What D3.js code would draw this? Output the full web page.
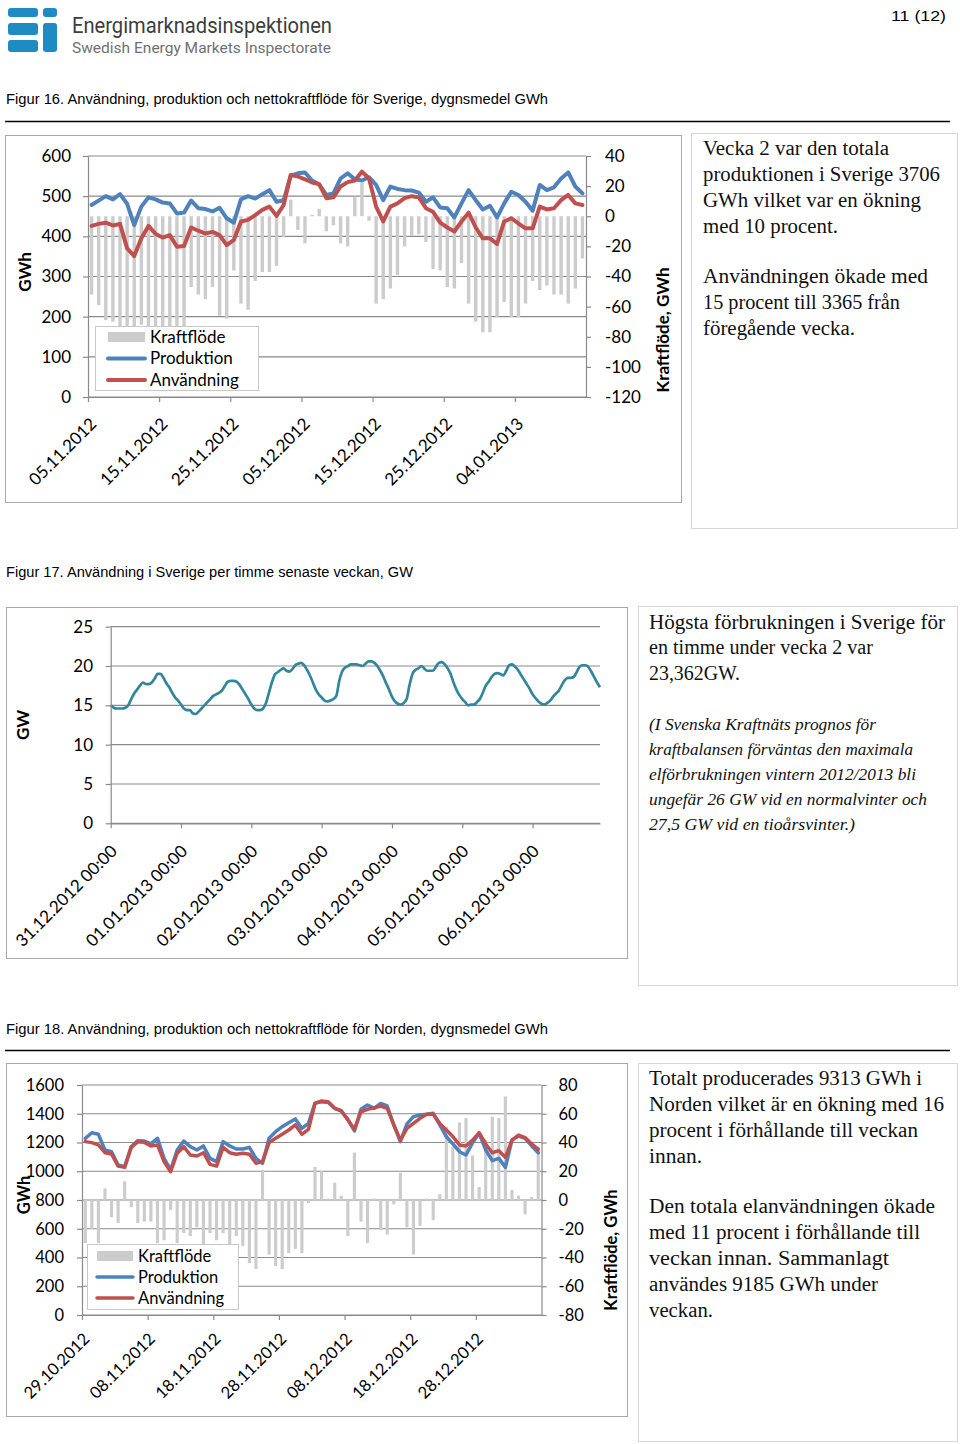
<!DOCTYPE html>
<html><head><meta charset="utf-8">
<script src="https://cdn.jsdelivr.net/npm/d3@7"></script>
<style>
html,body{margin:0;padding:0;background:#fff;}
svg{display:block;}
</style></head><body>
<svg id="page" width="960" height="1444"></svg>
<script>
// ---------------- DATA ----------------
// Figur 16 – Sverige, dygnsmedel GWh (05.11.2012 – 13.01.2013)
const fig16Start = "2012-11-05";
const fig16Produktion = [478,489,500,492,505,481,428,474,497,492,
  484,482,457,459,489,470,468,462,471,445,
  434,492,500,494,505,515,486,490,551,557,
  559,539,529,503,507,544,557,542,539,547,
  528,490,524,518,515,514,509,486,497,472,
  470,447,482,515,490,467,476,447,482,511,
  503,486,464,528,515,522,544,559,524,507];
const fig16Anvandning = [426,431,434,427,431,370,351,395,426,406,
  397,403,374,376,422,414,407,411,403,378,
  391,437,441,453,466,474,451,478,553,549,
  542,534,530,495,497,524,535,539,561,544,
  474,437,474,482,495,500,497,470,461,434,
  422,412,437,459,422,395,395,381,437,445,
  432,420,420,474,467,470,490,503,482,478];
const fig16Kraftflode = [-52,-59,-69,-70,-76,-105,-78,-72,-73,-84,
  -86,-78,-82,-81,-47,-52,-55,-47,-66,-68,
  -36,-58,-62,-43,-37,-37,-33,-14,11,-9,
  -18,1,5,-10,-6,-18,-20,13,22,-3,
  -58,-55,-48,-39,-20,-13,-12,-17,-35,-36,
  -47,-48,-31,-58,-70,-77,-77,-67,-57,-67,
  -67,-58,-43,-49,-46,-52,-52,-58,-48,-28];
const fig16DateLabels = ["05.11.2012","15.11.2012","25.11.2012","05.12.2012","15.12.2012","25.12.2012","04.01.2013"];
const fig16LeftTicks = [0,100,200,300,400,500,600];
const fig16RightTicks = [-120,-100,-80,-60,-40,-20,0,20,40];

// Figur 17 – Användning per timme, GW (31.12.2012 – 06.01.2013)
const fig17Hourly = [15.0,14.7,14.6,14.6,14.6,14.7,15.0,15.8,16.5,17.0,17.5,17.9,17.7,17.7,17.9,18.4,19.0,19.0,18.5,17.8,17.3,16.6,16.0,15.6,
  15.1,14.6,14.4,14.4,14.0,13.9,14.2,14.6,15.0,15.4,15.8,16.2,16.4,16.6,16.9,17.5,18.0,18.1,18.1,18.0,17.6,17.0,16.4,15.8,
  15.1,14.6,14.4,14.4,14.6,15.3,16.6,17.9,18.9,19.2,19.5,19.7,19.4,19.3,19.6,20.1,20.3,20.4,20.1,19.5,18.8,17.9,17.0,16.4,
  16.0,15.6,15.5,15.6,15.8,16.2,18.1,19.3,19.8,20.0,20.2,20.2,20.2,20.1,20.0,20.3,20.6,20.6,20.4,20.0,19.4,18.7,17.8,17.0,
  16.1,15.5,15.2,15.1,15.3,15.8,17.6,19.0,19.5,19.7,20.0,19.7,19.4,19.4,19.4,19.9,20.4,20.5,20.2,19.7,19.0,17.9,17.0,16.3,
  15.8,15.4,15.0,15.1,15.1,15.4,15.8,16.6,17.5,18.0,18.6,19.0,19.1,19.0,18.8,19.4,20.1,20.2,19.9,19.5,18.9,18.3,17.7,17.1,
  16.4,15.9,15.5,15.2,15.1,15.3,15.6,16.1,16.5,16.9,17.6,18.2,18.5,18.5,18.6,19.2,19.9,20.1,20.1,19.9,19.3,18.6,17.9,17.3];
const fig17DateLabels = ["31.12.2012 00:00","01.01.2013 00:00","02.01.2013 00:00","03.01.2013 00:00","04.01.2013 00:00","05.01.2013 00:00","06.01.2013 00:00"];
const fig17Ticks = [0,5,10,15,20,25];

// Figur 18 – Norden, dygnsmedel GWh (29.10.2012 – 06.01.2013)
const fig18Start = "2012-10-29";
const fig18Produktion = [1229,1268,1257,1148,1136,1043,1032,1171,1213,1210,
  1190,1229,1090,1009,1148,1210,1171,1148,1176,1090,
  1067,1206,1176,1155,1155,1166,1090,1055,1229,1275,
  1310,1338,1364,1298,1333,1474,1484,1479,1438,1419,
  1361,1280,1431,1461,1438,1472,1454,1322,1206,1329,
  1380,1391,1396,1403,1322,1241,1190,1136,1113,1199,
  1264,1148,1074,1090,1027,1217,1245,1229,1176,1129];
const fig18Anvandning = [1206,1199,1183,1129,1120,1036,1027,1166,1206,1201,
  1176,1183,1067,997,1125,1171,1113,1106,1129,1048,
  1036,1166,1129,1118,1125,1118,1055,1067,1199,1229,
  1257,1287,1322,1257,1292,1472,1489,1484,1438,1421,
  1357,1292,1414,1431,1442,1454,1438,1322,1217,1298,
  1333,1368,1396,1398,1333,1287,1241,1183,1176,1217,
  1268,1190,1129,1143,1097,1217,1252,1234,1190,1152];
const fig18Kraftflode = [-30,-20,-30,8,-12,-16,13,-5,-16,-15,
  -15,-30,-28,-7,-30,-23,-25,-19,-32,-23,
  -28,-23,-35,-25,-32,-44,-48,21,-38,-46,
  -48,-37,-34,-37,-2,23,20,1,12,3,
  -25,33,-15,-30,1,-21,-24,-3,19,-19,
  -38,-18,1,-14,4,51,37,54,57,31,
  9,42,58,57,72,7,3,-10,2,37];
const fig18DateLabels = ["29.10.2012","08.11.2012","18.11.2012","28.11.2012","08.12.2012","18.12.2012","28.12.2012"];
const fig18LeftTicks = [0,200,400,600,800,1000,1200,1400,1600];
const fig18RightTicks = [-80,-60,-40,-20,0,20,40,60,80];

const legendNames = ["Kraftflöde","Produktion","Användning"];

const text16 = [
  ["Vecka 2 var den totala",186],["produktionen i Sverige 3706",237],["GWh vilket var en ökning",218],["med 10 procent.",135],
  null,["Användningen ökade med",225],["15 procent till 3365 från",197],["föregående vecka.",152]];
const text17a = [["Högsta förbrukningen i Sverige för",296],["en timme under vecka 2 var",224],["23,362GW.",91]];
const text17b = [["(I Svenska Kraftnäts prognos för",227],["kraftbalansen förväntas den maximala",264],["elförbrukningen vintern 2012/2013 bli",267],["ungefär 26 GW vid en normalvinter och",278],["27,5 GW vid en tioårsvinter.)",206]];
const text18 = [["Totalt producerades 9313 GWh i",273],["Norden vilket är en ökning med 16",295],["procent i förhållande till veckan",269],["innan.",53],
  null,["Den totala elanvändningen ökade",286],["med 11 procent i förhållande till",271],["veckan innan. Sammanlagt",240],["användes 9185 GWh under",229],["veckan.",64]];

// ---------------- DRAW ----------------
const svg = d3.select("#page");
svg.append("rect").attr("width",960).attr("height",1444).attr("fill","#fff");
const FONT = "Lato, 'Open Sans', sans-serif";
const GRID = "#8a8a8a";
const BLUE = "#4f81bd", RED = "#c0504d", BARC = "#cccccc";
const fmt = d => String(d);

// header logo
const logo = svg.append("g").attr("fill","#1f8bc3");
[[8,8,30,9],[8,23,30,12],[8,40,30,12],[43,8,14,9],[43,23,14,29]].forEach(r=>{
  logo.append("rect").attr("x",r[0]).attr("y",r[1]).attr("width",r[2]).attr("height",r[3]).attr("rx",3);
});
svg.append("text").attr("x",72).attr("y",33).attr("font-family","'Liberation Sans Narrow', Roboto, sans-serif")
  .attr("font-size",22).attr("fill","#3d3d3d").attr("textLength",260).attr("lengthAdjust","spacingAndGlyphs").text("Energimarknadsinspektionen");
svg.append("text").attr("x",72).attr("y",53).attr("font-family","'Liberation Sans Narrow', Roboto, sans-serif")
  .attr("font-size",15).attr("fill","#707070").attr("textLength",259).attr("lengthAdjust","spacingAndGlyphs").text("Swedish Energy Markets Inspectorate");
svg.append("text").attr("x",891).attr("y",21).attr("font-family","'Liberation Sans Narrow', 'Liberation Sans', sans-serif")
  .attr("font-size",15).attr("fill","#000").attr("textLength",55).attr("lengthAdjust","spacingAndGlyphs").text("11 (12)");

function figTitle(txt, y, len){
  svg.append("text").attr("x",6).attr("y",y).attr("font-family","'Liberation Sans Narrow', 'Liberation Sans', sans-serif")
    .attr("font-size",14).attr("fill","#000").attr("textLength",len).attr("lengthAdjust","spacingAndGlyphs").text(txt);
}
function rule(y){
  svg.append("line").attr("x1",5).attr("x2",950).attr("y1",y).attr("y2",y).attr("stroke","#000").attr("stroke-width",1.5);
}
function frame(x0,y0,x1,y1,c){
  svg.append("rect").attr("x",x0+0.5).attr("y",y0+0.5).attr("width",x1-x0).attr("height",y1-y0)
    .attr("fill","none").attr("stroke",c).attr("stroke-width",1);
}
function textBox(lines, x, y0, step, size, gap, italic){
  let y = y0;
  lines.forEach(l=>{
    if(!l){ y += gap; return; }
    svg.append("text").attr("x",x).attr("y",y).attr("font-family","'Liberation Serif', 'DejaVu Serif', serif")
      .attr("font-size",size).attr("font-style",italic?"italic":"normal").attr("fill","#111")
      .attr("textLength",l[1]).attr("lengthAdjust","spacingAndGlyphs").text(l[0]);
    y += step;
  });
}
function styleAxis(g){
  g.select(".domain").attr("stroke",GRID).attr("stroke-width",1.2);
  g.selectAll(".tick line").attr("stroke",GRID).attr("stroke-width",1.2);
  g.selectAll("text").attr("font-family",FONT).attr("fill","#000");
}

figTitle("Figur 16. Användning, produktion och nettokraftflöde för Sverige, dygnsmedel GWh",104,542);
rule(121.5);
figTitle("Figur 17. Användning i Sverige per timme senaste veckan, GW",577,407);
figTitle("Figur 18. Användning, produktion och nettokraftflöde för Norden, dygnsmedel GWh",1034,542);
rule(1050.5);

frame(5,135,681,502,"#a9a9a9");
frame(691,133,957,528,"#d6d6d6");
frame(6,607,627,958,"#a9a9a9");
frame(638,606,957,985,"#d6d6d6");
frame(6,1063,627,1416,"#a9a9a9");
frame(638,1063,957,1441,"#d6d6d6");

textBox(text16,703,154.5,26,20,24,false);
textBox(text17a,649,628.5,25.5,20,0,false);
textBox(text17b,649,729.5,25,17.5,0,true);
textBox(text18,649,1084.5,26,20,24,false);

function combo(cfg){
  const g = svg.append("g");
  const n = cfg.prod.length;
  const start = d3.timeParse("%Y-%m-%d")(cfg.start);
  const days = d3.range(n).map(i=>d3.timeDay.offset(start,i));
  const x = d3.scaleBand().domain(days).range([cfg.x0,cfg.x1]).paddingInner(cfg.pad).paddingOuter(cfg.pad/2);
  const xt = d3.scaleLinear().domain([0,n]).range([cfg.x0,cfg.x1]);
  const yL = d3.scaleLinear().domain([cfg.leftTicks[0],cfg.leftTicks[cfg.leftTicks.length-1]]).range([cfg.yB,cfg.yT]);
  const yR = d3.scaleLinear().domain([cfg.rightTicks[0],cfg.rightTicks[cfg.rightTicks.length-1]]).range([cfg.yB,cfg.yT]);
  g.append("g").selectAll("line").data(cfg.leftTicks).join("line")
    .attr("x1",cfg.x0).attr("x2",cfg.x1).attr("y1",d=>yL(d)).attr("y2",d=>yL(d))
    .attr("stroke",GRID).attr("stroke-width",1.2);
  g.append("g").selectAll("rect").data(cfg.flow).join("rect")
    .attr("x",(d,i)=>x(days[i])).attr("width",x.bandwidth())
    .attr("y",d=>Math.min(yR(d),yR(0))).attr("height",d=>Math.abs(yR(d)-yR(0)))
    .attr("fill",BARC);
  const line = d3.line().x((d,i)=>x(days[i])+x.bandwidth()/2).y(d=>yL(d));
  [[cfg.prod,BLUE],[cfg.use,RED]].forEach(([data,c])=>{
    g.append("path").datum(data).attr("d",line).attr("fill","none").attr("stroke",c)
      .attr("stroke-width",cfg.lw).attr("stroke-linejoin","round").attr("stroke-linecap","round");
  });
  const la = g.append("g").attr("transform",`translate(${cfg.x0},0)`)
    .call(d3.axisLeft(yL).tickValues(cfg.leftTicks).tickSize(5).tickSizeOuter(0).tickPadding(cfg.lp).tickFormat(fmt));
  styleAxis(la); la.selectAll("text").attr("font-size",cfg.fs);
  const ra = g.append("g").attr("transform",`translate(${cfg.x1},0)`)
    .call(d3.axisRight(yR).tickValues(cfg.rightTicks).tickSize(5).tickSizeOuter(0).tickPadding(cfg.rp).tickFormat(fmt));
  styleAxis(ra); ra.selectAll("text").attr("font-size",cfg.fs);
  const ba = g.append("g").attr("transform",`translate(0,${cfg.yB})`)
    .call(d3.axisBottom(xt).tickValues(d3.range(0,n-1,10)).tickSize(5).tickSizeOuter(0).tickFormat((d,i)=>cfg.labels[i]));
  styleAxis(ba);
  ba.selectAll("text").attr("font-size",cfg.xfs).attr("text-anchor","end").attr("y",0).attr("dy",0)
    .attr("transform",`translate(${cfg.ldx},${cfg.ldy}) rotate(-45)`);
  // axis titles
  g.append("text").attr("transform",`translate(${cfg.tlx},${cfg.tly}) rotate(-90)`).attr("text-anchor","middle")
    .attr("dominant-baseline","central").attr("font-family",FONT).attr("font-weight","bold").attr("font-size",cfg.tfs).text("GWh");
  g.append("text").attr("transform",`translate(${cfg.trx},${cfg.try_}) rotate(-90)`).attr("text-anchor","middle")
    .attr("dominant-baseline","central").attr("font-family",FONT).attr("font-weight","bold").attr("font-size",cfg.tfs).text("Kraftflöde, GWh");
  // legend
  const L = cfg.leg;
  const lg = g.append("g");
  lg.append("rect").attr("x",L.x+0.5).attr("y",L.y+0.5).attr("width",L.w).attr("height",L.h).attr("fill","#fff").attr("stroke","#c8c8c8");
  legendNames.forEach((name,k)=>{
    const cy = L.y + L.r0 + k*L.dr;
    if(k===0){
      lg.append("rect").attr("x",L.sx).attr("y",cy-5).attr("width",L.sw).attr("height",10).attr("fill",BARC);
    } else {
      lg.append("line").attr("x1",L.sx).attr("x2",L.sx+L.sw).attr("y1",cy).attr("y2",cy)
        .attr("stroke",k===1?BLUE:RED).attr("stroke-width",cfg.lw).attr("stroke-linecap","round");
    }
    lg.append("text").attr("x",L.tx).attr("y",cy).attr("dy","0.35em").attr("font-family",FONT).attr("font-size",cfg.lfs).text(name);
  });
}

combo({start:fig16Start,prod:fig16Produktion,use:fig16Anvandning,flow:fig16Kraftflode,labels:fig16DateLabels,
  leftTicks:fig16LeftTicks,rightTicks:fig16RightTicks,x0:88,x1:586,yT:156,yB:397,pad:0.52,lw:4,
  fs:17,xfs:17,lp:12,rp:14,ldx:9,ldy:28,tfs:17,tlx:24,tly:272,trx:662,try_:330,lfs:17,
  leg:{x:95,y:326,w:163,h:64,r0:11,dr:21.5,sx:108,sw:37,tx:150}});

combo({start:fig18Start,prod:fig18Produktion,use:fig18Anvandning,flow:fig18Kraftflode,labels:fig18DateLabels,
  leftTicks:fig18LeftTicks,rightTicks:fig18RightTicks,x0:82,x1:541.5,yT:1085,yB:1315,pad:0.52,lw:3.5,
  fs:16.5,xfs:16.5,lp:13,rp:12,ldx:8,ldy:25,tfs:16.5,tlx:24,tly:1195,trx:611,try_:1250,lfs:16.5,
  leg:{x:87,y:1244,w:151,h:65,r0:12,dr:21,sx:97,sw:36,tx:138}});

// Figur 17 line chart
(function(){
  const g = svg.append("g");
  const x0=110.7, x1=600, yT=626.7, yB=823.3;
  const x = d3.scaleLinear().domain([0,fig17Hourly.length-1]).range([x0,x1]);
  const y = d3.scaleLinear().domain([0,25]).range([yB,yT]);
  g.append("g").selectAll("line").data(fig17Ticks).join("line")
    .attr("x1",x0).attr("x2",x1).attr("y1",d=>y(d)).attr("y2",d=>y(d)).attr("stroke",GRID).attr("stroke-width",1.2);
  g.append("path").datum(fig17Hourly).attr("d",d3.line().x((d,i)=>x(i)).y(d=>y(d)).curve(d3.curveMonotoneX))
    .attr("fill","none").attr("stroke","#31859c").attr("stroke-width",2.7).attr("stroke-linejoin","round");
  const la = g.append("g").attr("transform",`translate(${x0},0)`)
    .call(d3.axisLeft(y).tickValues(fig17Ticks).tickSize(5).tickSizeOuter(0).tickPadding(12.7).tickFormat(fmt));
  styleAxis(la); la.selectAll("text").attr("font-size",17);
  const ba = g.append("g").attr("transform",`translate(0,${yB})`)
    .call(d3.axisBottom(x).tickValues(d3.range(0,fig17Hourly.length,24)).tickSize(5).tickSizeOuter(0).tickFormat((d,i)=>fig17DateLabels[i]));
  styleAxis(ba);
  ba.selectAll("text").attr("font-size",17).attr("text-anchor","end").attr("y",0).attr("dy",0)
    .attr("transform","translate(7,29) rotate(-45)");
  g.append("text").attr("transform","translate(22,725) rotate(-90)").attr("text-anchor","middle")
    .attr("dominant-baseline","central").attr("font-family",FONT).attr("font-weight","bold").attr("font-size",17).text("GW");
})();
</script>
</body></html>
